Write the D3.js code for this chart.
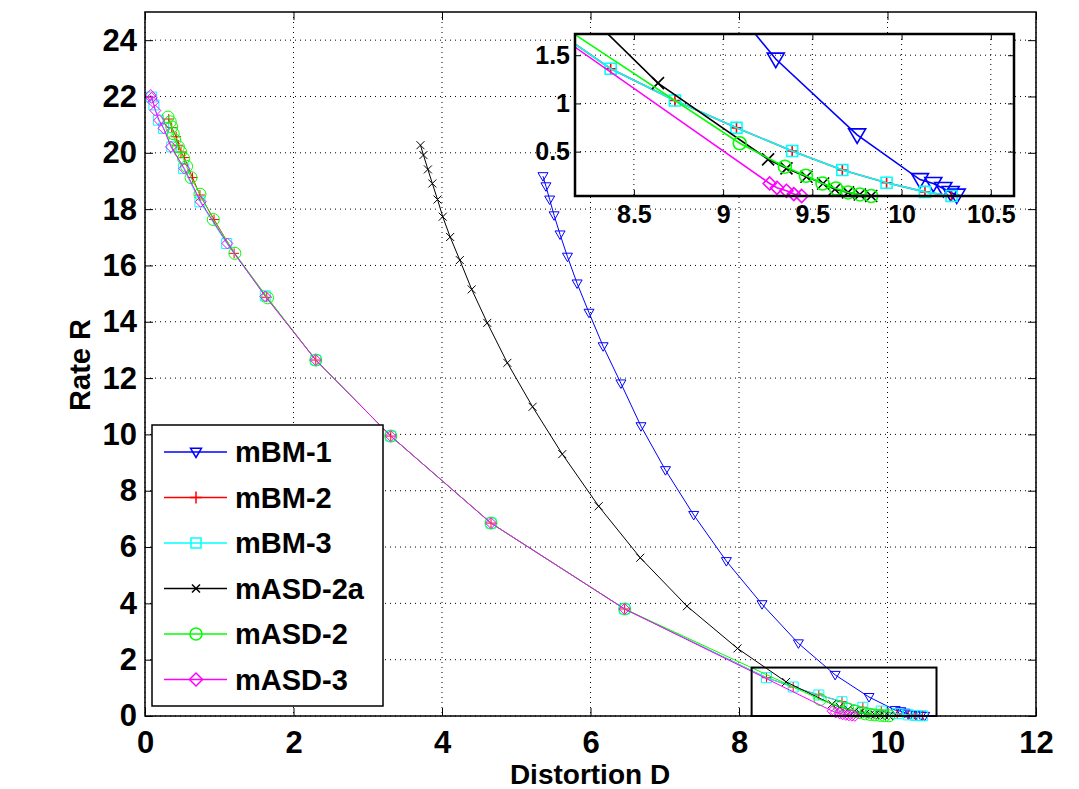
<!DOCTYPE html>
<html>
<head>
<meta charset="utf-8">
<script src="https://cdn.jsdelivr.net/npm/d3@7"></script>
<style>
  body { margin: 0; background: #fff; }
  svg { display: block; font-family: "Liberation Sans", Arial, sans-serif; }
  .tick text { font-weight: bold; font-family: "Liberation Sans Narrow", "Liberation Sans", Arial, sans-serif; }
</style>
</head>
<body>
<svg id="chart" width="1079" height="789"></svg>
<script>
// Rate-distortion curves, [D, R] pairs
const mBM1 = [[5.36,19.17],[5.40,18.81],[5.45,18.34],[5.51,17.78],[5.59,17.10],[5.69,16.31],[5.82,15.36],[5.98,14.32],
  [6.17,13.13],[6.41,11.81],[6.68,10.29],[7.01,8.73],[7.39,7.14],[7.83,5.50],[8.31,3.97],[8.80,2.58],[9.295,1.46],
  [9.751,0.674],[10.103,0.21],[10.178,0.17],[10.234,0.118],[10.275,0.077],[10.309,0.05],[10.38,0.03],[10.45,0.015],[10.50,0.005]];
const mBM2 = [[0.32,21.2],[0.36,20.9],[0.42,20.57],[0.45,20.27],[0.485,20.03],[0.53,19.83],[0.64,19.12],[0.74,18.5],
  [0.93,17.63],[1.20,16.43],[1.64,14.87],[2.30,12.64],[3.31,9.94],[4.66,6.85],[6.46,3.80],[8.37,1.36],[8.73,1.03],
  [9.075,0.747],[9.387,0.507],[9.668,0.31],[9.916,0.177],[10.131,0.083],[10.28,0.04],[10.38,0.02],[10.47,0.008]];
const mBM3 = [[0.09,21.98],[0.12,21.7],[0.18,21.16],[0.25,20.87],[0.36,20.21],[0.52,19.44],[0.74,18.26],[1.10,16.78],
  [1.62,14.92],[2.30,12.64],[3.31,9.94],[4.66,6.85],[6.46,3.80],[8.37,1.36],[8.73,1.03],[9.075,0.747],[9.387,0.507],
  [9.668,0.31],[9.916,0.177],[10.131,0.083],[10.28,0.04],[10.38,0.02],[10.47,0.008]];
const mASD2a = [[3.71,20.27],[3.75,19.92],[3.81,19.41],[3.87,18.91],[3.94,18.34],[4.01,17.73],[4.11,17.01],[4.24,16.19],
  [4.40,15.15],[4.61,13.96],[4.88,12.54],[5.22,10.98],[5.62,9.30],[6.11,7.45],[6.67,5.62],[7.30,3.90],[7.98,2.40],
  [8.635,1.21],[9.252,0.42],[9.355,0.327],[9.467,0.24],[9.56,0.17],[9.626,0.11],[9.70,0.077],[9.766,0.056],
  [9.83,0.04],[9.90,0.025],[9.96,0.012],[10.02,0.005]];
const mASD2 = [[0.31,21.27],[0.34,21.1],[0.36,20.92],[0.38,20.68],[0.40,20.45],[0.45,20.21],[0.48,20.03],[0.52,19.8],
  [0.56,19.52],[0.62,19.12],[0.74,18.53],[0.92,17.63],[1.21,16.43],[1.65,14.85],[2.30,12.64],[3.31,9.94],[4.66,6.85],
  [6.46,3.80],[9.093,0.587],[9.346,0.344],[9.464,0.25],[9.557,0.17],[9.632,0.118],[9.70,0.077],[9.766,0.056],
  [9.83,0.04],[9.90,0.025],[9.96,0.012],[10.02,0.005]];
const mASD3 = [[0.077,22.05],[0.09,21.95],[0.11,21.8],[0.14,21.5],[0.19,21.16],[0.25,20.87],[0.35,20.21],[0.53,19.44],
  [0.75,18.26],[1.11,16.78],[1.62,14.9],[2.30,12.64],[3.31,9.94],[4.66,6.85],[6.46,3.80],[9.261,0.17],[9.302,0.125],
  [9.355,0.094],[9.396,0.06],[9.44,0.04],[9.48,0.025],[9.52,0.012],[9.56,0.005]];

const seriesNames = ['mBM-1', 'mBM-2', 'mBM-3', 'mASD-2a', 'mASD-2', 'mASD-3'];
const seriesData = [mBM1, mBM2, mBM3, mASD2a, mASD2, mASD3];
const seriesColors = ['#0000ff', '#ff0000', '#00ffff', '#000000', '#00ff00', '#ff00ff'];
const seriesMarkers = ['tri', 'plus', 'square', 'x', 'circle', 'diamond'];

const xTicks = [0, 2, 4, 6, 8, 10, 12];
const yTicks = [0, 2, 4, 6, 8, 10, 12, 14, 16, 18, 20, 22, 24];
const insetXTicks = [8.5, 9, 9.5, 10, 10.5];
const insetYTicks = [0.5, 1, 1.5];
const insetXDomain = [8.17, 10.63];
const insetYDomain = [0.04, 1.72];

const series = seriesNames.map((name, i) => ({
  name, values: seriesData[i], color: seriesColors[i], marker: seriesMarkers[i]
}));

// half sizes of each marker kind, per panel
const mainSizes = { tri: 5, plus: 5, square: 5, x: 4, circle: 6, diamond: 5.5 };
const insetSizes = { tri: 8.5, plus: 6, square: 5.5, x: 6, circle: 6.5, diamond: 6.5 };
const legendSizes = { tri: 5.5, plus: 6, square: 5, x: 4, circle: 6, diamond: 6.5 };

const svg = d3.select('#chart');

// marker path centred on 0,0
function markerPath(type, s) {
  switch (type) {
    case 'tri': return `M${-s},${-s * 0.7}L${s},${-s * 0.7}L0,${s}Z`;
    case 'plus': return `M${-s},0H${s}M0,${-s}V${s}`;
    case 'square': return `M${-s},${-s}h${2 * s}v${2 * s}h${-2 * s}Z`;
    case 'x': return `M${-s},${-s}L${s},${s}M${-s},${s}L${s},${-s}`;
    case 'circle': return `M${s},0A${s},${s} 0 1,1 ${-s},0A${s},${s} 0 1,1 ${s},0Z`;
    case 'diamond': return `M0,${-s}L${s},0L0,${s}L${-s},0Z`;
  }
}

function drawAxes(g, x, y, xt, yt, w, h, opts) {
  g.append('rect').attr('width', w).attr('height', h).attr('fill', '#fff');
  // dotted grid
  g.append('g').selectAll('line').data(xt).join('line')
    .attr('x1', d => x(d)).attr('x2', d => x(d)).attr('y1', 0).attr('y2', h)
    .attr('stroke', '#000').attr('stroke-width', 1).attr('stroke-dasharray', '1,4');
  g.append('g').selectAll('line').data(yt).join('line')
    .attr('y1', d => y(d)).attr('y2', d => y(d)).attr('x1', 0).attr('x2', w)
    .attr('stroke', '#000').attr('stroke-width', 1).attr('stroke-dasharray', '1,4');

  const tl = opts.tick;
  const xa = g.append('g').attr('transform', `translate(0,${h})`)
    .call(d3.axisBottom(x).tickValues(xt).tickSize(-tl).tickPadding(opts.xpad).tickFormat(d3.format('')));
  const ya = g.append('g')
    .call(d3.axisLeft(y).tickValues(yt).tickSize(-tl).tickPadding(opts.ypad).tickFormat(d3.format('')));
  g.append('g').call(d3.axisTop(x).tickValues(xt).tickSize(-tl).tickFormat(''));
  g.append('g').attr('transform', `translate(${w},0)`)
    .call(d3.axisRight(y).tickValues(yt).tickSize(-tl).tickFormat(''));
  g.selectAll('.domain').remove();
  g.selectAll('.tick line').attr('stroke', '#000');
  xa.selectAll('text').attr('font-size', opts.font).attr('fill', '#000');
  ya.selectAll('text').attr('font-size', opts.font).attr('fill', '#000');
}

function drawSeries(g, x, y, w, h, clipId, sizes, lw) {
  g.append('clipPath').attr('id', clipId).append('rect').attr('width', w).attr('height', h);
  const line = d3.line().x(d => x(d[0])).y(d => y(d[1]));
  const [x0, x1] = x.domain(), [y0, y1] = y.domain();
  series.forEach(s => {
    g.append('path').attr('d', line(s.values)).attr('fill', 'none')
      .attr('stroke', s.color).attr('stroke-width', lw).attr('clip-path', `url(#${clipId})`);
    g.append('g').selectAll('path')
      .data(s.values.filter(d => d[0] >= x0 && d[0] <= x1 && d[1] >= y0 && d[1] <= y1))
      .join('path')
      .attr('transform', d => `translate(${x(d[0])},${y(d[1])})`)
      .attr('d', markerPath(s.marker, sizes[s.marker]))
      .attr('fill', 'none').attr('stroke', s.color).attr('stroke-width', lw);
  });
}

// ---- main axes ----
const M = { left: 145, top: 12, right: 1036, bottom: 716 };
const W = M.right - M.left, H = M.bottom - M.top;
const x = d3.scaleLinear().domain([0, 12]).range([0, W]);
const y = d3.scaleLinear().domain([0, 25]).range([H, 0]);
const main = svg.append('g').attr('transform', `translate(${M.left},${M.top})`);
drawAxes(main, x, y, xTicks, yTicks, W, H, { tick: 8, xpad: 15, ypad: 8, font: 31 });
drawSeries(main, x, y, W, H, 'clipMain', mainSizes, 1);
main.append('rect').attr('width', W).attr('height', H).attr('fill', 'none').attr('stroke', '#000').attr('stroke-width', 1.5);

// zoom box in main axes
main.append('rect')
  .attr('x', x(insetXDomain[0])).attr('y', y(1.72))
  .attr('width', x(10.66) - x(insetXDomain[0])).attr('height', y(0) - y(1.72))
  .attr('fill', 'none').attr('stroke', '#000').attr('stroke-width', 2);

main.append('text').attr('x', 445).attr('y', H + 68).attr('text-anchor', 'middle')
  .attr('font-size', 28).attr('font-weight', 'bold').text('Distortion D');
main.append('text').attr('transform', `translate(${-55},${353}) rotate(-90)`).attr('text-anchor', 'middle')
  .attr('font-size', 29).attr('font-weight', 'bold').text('Rate R');

// ---- legend ----
const leg = svg.append('g').attr('transform', 'translate(152,425)');
leg.append('rect').attr('width', 231).attr('height', 281).attr('fill', '#fff').attr('stroke', '#000').attr('stroke-width', 1.5);
series.forEach((s, i) => {
  const ly = 27 + i * 45.5;
  leg.append('line').attr('x1', 12).attr('x2', 75).attr('y1', ly).attr('y2', ly)
    .attr('stroke', s.color).attr('stroke-width', 1.5);
  leg.append('path').attr('transform', `translate(44,${ly})`).attr('d', markerPath(s.marker, legendSizes[s.marker]))
    .attr('fill', 'none').attr('stroke', s.color).attr('stroke-width', 1.5);
  leg.append('text').attr('x', 83).attr('y', ly + 10).attr('font-size', 29).attr('font-weight', 'bold').text(s.name);
});

// ---- inset ----
const I = { left: 575, top: 34, right: 1014, bottom: 196 };
const IW = I.right - I.left, IH = I.bottom - I.top;
const ix = d3.scaleLinear().domain(insetXDomain).range([0, IW]);
const iy = d3.scaleLinear().domain(insetYDomain).range([IH, 0]);
const inset = svg.append('g').attr('transform', `translate(${I.left},${I.top})`);
drawAxes(inset, ix, iy, insetXTicks, insetYTicks, IW, IH, { tick: 6, xpad: 9, ypad: 5, font: 25 });
drawSeries(inset, ix, iy, IW, IH, 'clipInset', insetSizes, 1.6);
inset.append('rect').attr('width', IW).attr('height', IH).attr('fill', 'none').attr('stroke', '#000').attr('stroke-width', 2.5);
</script>
</body>
</html>
